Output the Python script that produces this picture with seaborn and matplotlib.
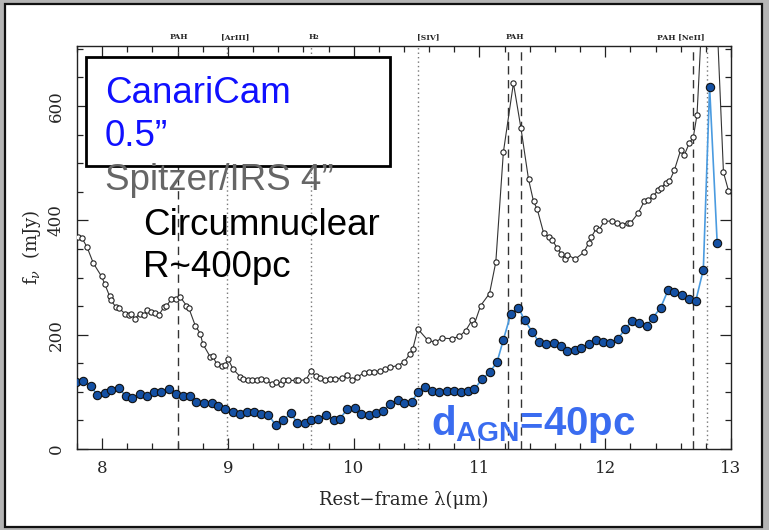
import matplotlib
matplotlib.use("Agg")
import matplotlib.pyplot as plt
from matplotlib.patches import Rectangle
from matplotlib.ticker import MultipleLocator
import matplotlib.transforms as mtransforms
import pandas as pd
import seaborn as sns

# Spitzer/IRS 4" circumnuclear spectrum (mJy)
spitzer_wave = [7.81, 7.84, 7.88, 7.93, 7.995, 8.02, 8.06, 8.07, 8.11, 8.135, 8.18, 8.21, 8.23, 8.26,
                8.30, 8.33, 8.36, 8.39, 8.42, 8.45, 8.49, 8.51, 8.55, 8.59, 8.62, 8.67, 8.69, 8.74,
                8.78, 8.80, 8.86, 8.88, 8.91, 8.95, 8.98, 9.00, 9.04, 9.10, 9.12, 9.16, 9.19, 9.23,
                9.26, 9.30, 9.35, 9.38, 9.42, 9.44, 9.48, 9.54, 9.56, 9.62, 9.66, 9.70, 9.73, 9.77,
                9.81, 9.85, 9.91, 9.95, 9.99, 10.03, 10.08, 10.12, 10.16, 10.21, 10.25, 10.29, 10.35,
                10.40, 10.45, 10.47, 10.51, 10.59, 10.65, 10.70, 10.78, 10.84, 10.89, 10.94, 10.96,
                11.01, 11.08, 11.13, 11.19, 11.27, 11.33, 11.39, 11.43, 11.46, 11.51, 11.55, 11.58,
                11.62, 11.65, 11.68, 11.70, 11.76, 11.83, 11.87, 11.89, 11.93, 11.95, 11.99, 12.05,
                12.09, 12.13, 12.18, 12.20, 12.26, 12.31, 12.34, 12.38, 12.42, 12.44, 12.48, 12.51,
                12.55, 12.60, 12.63, 12.67, 12.70, 12.73, 12.77, 12.81, 12.86, 12.94, 12.98, 13.02]
spitzer_flux = [371, 369, 353, 325, 302, 289, 267, 260, 248, 246, 237, 234, 236, 228,
                237, 234, 243, 240, 238, 234, 248, 250, 262, 263, 266, 251, 246, 216,
                202, 184, 161, 162, 149, 146, 147, 158, 140, 126, 123, 121, 120, 121,
                123, 121, 114, 117, 114, 120, 120, 120, 120, 121, 136, 127, 124, 121,
                123, 123, 124, 129, 121, 126, 133, 134, 134, 137, 140, 143, 146,
                152, 167, 175, 210, 190, 187, 194, 193, 197, 207, 225, 219,
                251, 272, 327, 519, 640, 561, 472, 433, 419, 378, 371, 365,
                351, 342, 333, 340, 332, 344, 361, 371, 386, 383, 398, 399,
                395, 392, 396, 395, 412, 433, 436, 442, 453, 456, 465, 468,
                488, 523, 515, 536, 545, 585, 760, 980, 900, 484, 452, 440]

# CanariCam 0.5" nuclear spectrum (mJy)
canari_wave = [7.79, 7.85, 7.91, 7.96, 8.02, 8.07, 8.13, 8.19, 8.24, 8.30, 8.36, 8.41, 8.47, 8.53,
               8.59, 8.64, 8.70, 8.75, 8.81, 8.87, 8.92, 8.98, 9.04, 9.10, 9.15, 9.21, 9.26, 9.32,
               9.38, 9.44, 9.50, 9.55, 9.61, 9.66, 9.72, 9.78, 9.84, 9.89, 9.95, 10.01, 10.06,
               10.12, 10.18, 10.23, 10.29, 10.35, 10.40, 10.46, 10.51, 10.57, 10.62, 10.68, 10.74,
               10.80, 10.85, 10.91, 10.96, 11.02, 11.08, 11.14, 11.19, 11.25, 11.31, 11.36, 11.42,
               11.47, 11.53, 11.59, 11.65, 11.70, 11.76, 11.81, 11.87, 11.93, 11.98, 12.04, 12.10,
               12.16, 12.21, 12.27, 12.33, 12.38, 12.44, 12.50, 12.55, 12.61, 12.67, 12.72, 12.78,
               12.83, 12.89]
canari_flux = [117, 119, 110, 95, 98, 104, 107, 92, 89, 96, 92, 100, 100, 105,
               96, 93, 92, 83, 80, 80, 76, 70, 64, 61, 65, 65, 62, 60,
               42, 50, 63, 46, 46, 51, 53, 60, 50, 53, 70, 71, 61,
               60, 63, 67, 79, 86, 81, 82, 99, 108, 101, 99, 101,
               102, 99, 101, 105, 122, 134, 152, 191, 237, 247, 225, 205,
               188, 183, 185, 181, 171, 174, 177, 183, 190, 188, 186, 193,
               210, 224, 221, 216, 230, 247, 278, 274, 270, 263, 259, 314,
               633, 361]

# Spectral features marked along the top axis
pah_lines = [8.6, 11.23, 11.33, 12.7]
ion_lines = [8.99, 9.66, 10.51, 12.81]
feature_labels = ["PAH", "[ArIII]", "H\u2082", "[SIV]", "PAH", "PAH [NeII]"]
feature_label_x = [8.61, 9.06, 9.68, 10.59, 11.28, 12.60]

x_ticks = [8, 9, 10, 11, 12, 13]
y_ticks = [0, 200, 400, 600]

spitzer = pd.DataFrame({"wave": spitzer_wave, "flux": spitzer_flux})
canari = pd.DataFrame({"wave": canari_wave, "flux": canari_flux})

sns.set_style("ticks")
plt.rcParams["font.family"] = ["DejaVu Serif"]
plt.rcParams["mathtext.fontset"] = "custom"
plt.rcParams["mathtext.rm"] = "DejaVu Serif"
plt.rcParams["mathtext.it"] = "DejaVu Serif:italic"
plt.rcParams["mathtext.bf"] = "Liberation Sans:bold"

W, H = 769, 530
fig = plt.figure(figsize=(W / 100, H / 100), dpi=100, facecolor="#b5b5b5")


def fx(px):
    return px / W


def fy(py):
    return 1 - py / H


# white slide panel with a dark border, kept behind the axes
fig.patches.append(Rectangle((fx(5), fy(527)), fx(762) - fx(5), fy(4) - fy(527),
                             transform=fig.transFigure, facecolor="white",
                             edgecolor="#111111", lw=1.6, zorder=-5))

ax = fig.add_axes([fx(77), fy(449), fx(731) - fx(77), fy(46) - fy(449)])
ax.set_zorder(1)
ax.set_facecolor("white")

for xv in pah_lines:
    ax.axvline(xv, color="#333333", lw=1.0, dashes=(6, 4), zorder=1)
for xv in ion_lines:
    ax.axvline(xv, color="#777777", lw=1.0, dashes=(1, 2.2), zorder=1)

sns.lineplot(data=spitzer, x="wave", y="flux", estimator=None, sort=False, ax=ax,
             color="#333333", lw=0.8, marker="o", markersize=3.8,
             markerfacecolor="white", markeredgecolor="#222222", markeredgewidth=0.8,
             zorder=3)
sns.lineplot(data=canari, x="wave", y="flux", estimator=None, sort=False, ax=ax,
             color="#4a9be0", lw=1.2, marker="o", markersize=6.0,
             markerfacecolor="#1450a3", markeredgecolor="#111111", markeredgewidth=0.8,
             zorder=4)

ax.set_xlim(7.8, 13.0)
ax.set_ylim(0, 705)
ax.set_xticks(x_ticks)
ax.set_yticks(y_ticks)
ax.xaxis.set_minor_locator(MultipleLocator(0.2))
ax.yaxis.set_minor_locator(MultipleLocator(50))
ax.tick_params(which="both", direction="in", top=True, right=True, color="#222222", width=0.9)
ax.tick_params(which="major", length=8)
ax.tick_params(which="minor", length=4)
ax.tick_params(axis="x", labelsize=12, pad=8)
ax.tick_params(axis="y", labelsize=12, pad=9)
for lab in ax.get_yticklabels():
    lab.set_rotation(90)
    lab.set_va("center")
for sp in ax.spines.values():
    sp.set_color("#222222")
    sp.set_linewidth(1.0)

ax.set_xlabel("Rest\u2212frame \u03bb(\u03bcm)", fontsize=13, labelpad=10)
ax.set_ylabel(r"f$_{\nu}$  (mJy)", fontsize=13, labelpad=3)

# feature names above the frame
trans = mtransforms.blended_transform_factory(ax.transData, ax.transAxes)
for lx, lt in zip(feature_label_x, feature_labels):
    ax.text(lx, 1.022, lt, transform=trans, ha="center", va="center",
            fontsize=5.5, fontweight="bold", family="DejaVu Serif", clip_on=False)

# aperture legend box
ax.add_patch(Rectangle(((86 - 77) / 654, (449 - 166) / 403), (390 - 86) / 654, (166 - 57) / 403,
                       transform=ax.transAxes, facecolor="white", edgecolor="black",
                       lw=2.0, zorder=6))

sans = ["Liberation Sans", "DejaVu Sans"]
fig.text(fx(105), fy(103), "CanariCam", color="#1010ff", fontsize=26.5, family=sans,
         va="baseline", zorder=10)
fig.text(fx(105), fy(146), "0.5\u201d", color="#1010ff", fontsize=26.5, family=sans,
         va="baseline", zorder=10)
fig.text(fx(105), fy(190), "Spitzer/IRS 4\u201d", color="#666666", fontsize=26.5, family=sans,
         va="baseline", zorder=10)
fig.text(fx(143), fy(235), "Circumnuclear", color="black", fontsize=26.5, family=sans,
         va="baseline", zorder=10)
fig.text(fx(143), fy(277), "R~400pc", color="black", fontsize=26.5, family=sans,
         va="baseline", zorder=10)
fig.text(fx(431), fy(435), r"d$_{\mathbf{AGN}}$=40pc", color="#3a6cf0", fontsize=29,
         fontweight="bold", family=sans, va="baseline", zorder=10)

fig.savefig("out.png", dpi=100, facecolor=fig.get_facecolor())
